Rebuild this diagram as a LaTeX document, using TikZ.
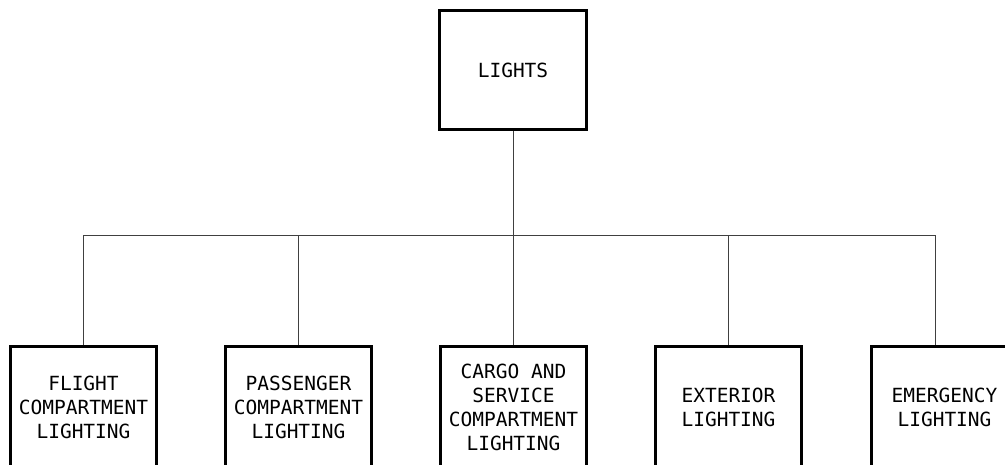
\documentclass[tikz,border=0pt]{standalone}
\usepackage{fontspec}
\setmonofont{DejaVu Sans Mono}
\begin{document}
\begin{tikzpicture}[x=1pt,y=-1pt,
  box/.style={draw=black, line width=3pt, inner sep=0pt, align=center,
    font=\ttfamily\fontsize{19.5}{24}\selectfont},
  topbox/.style={box, minimum width=147pt, minimum height=119pt},
  subbox/.style={box, minimum width=146pt, minimum height=121pt},
  conn/.style={draw=black!75, line width=1pt}]
\useasboundingbox (0,0) rectangle (1005,464);
\clip (0,0) rectangle (1005,464);
\node[topbox] (top) at (513,70) {LIGHTS};
\node[subbox] (b1) at (83.5,407) {FLIGHT\\COMPARTMENT\\LIGHTING};
\node[subbox] (b2) at (298.5,407) {PASSENGER\\COMPARTMENT\\LIGHTING};
\node[subbox] (b3) at (513.5,407) {CARGO AND\\SERVICE\\COMPARTMENT\\LIGHTING};
\node[subbox] (b4) at (728.5,407) {EXTERIOR\\LIGHTING};
\node[subbox] (b5) at (944.5,407) {EMERGENCY\\LIGHTING};
\coordinate (bus) at (513,235);
\coordinate (b5t) at ([xshift=65.5pt]b5.north west);
\draw[conn] (top.south) -- (top.south |- bus);
\draw[conn] (b1.north) |- (b5t |- bus) -- (b5t);
\draw[conn] (b2.north) -- (b2.north |- bus);
\draw[conn] (b3.north) -- (b3.north |- bus);
\draw[conn] (b4.north) -- (b4.north |- bus);
\end{tikzpicture}
\end{document}
